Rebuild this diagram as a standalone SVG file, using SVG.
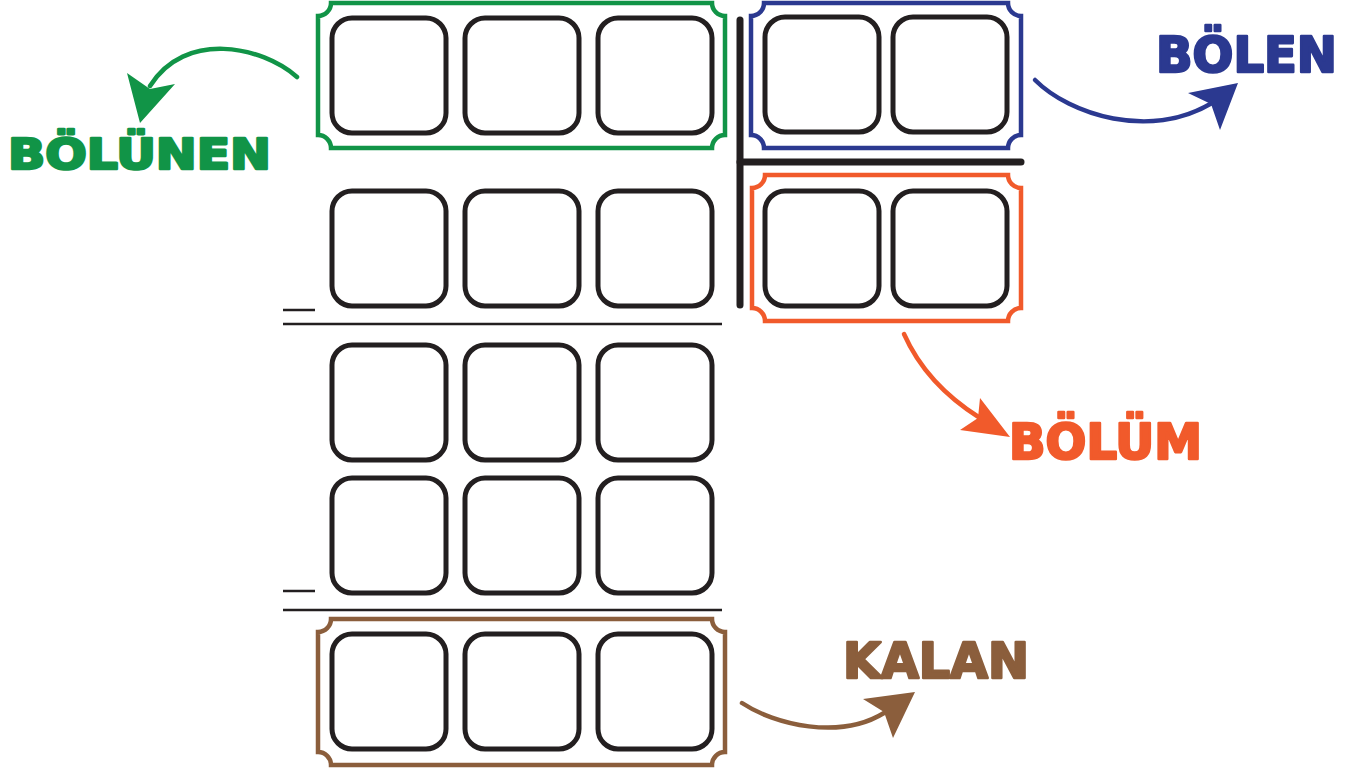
<svg xmlns="http://www.w3.org/2000/svg" width="1355" height="773" viewBox="0 0 1355 773">
<style>
.box{fill:none;stroke:#231f20;stroke-width:5}
.frame{fill:none;stroke-width:4.5}
.bar{stroke:#231f20;stroke-width:7;stroke-linecap:round}
.rule{stroke:#231f20;stroke-width:2.5}
.arr{fill:none;stroke-width:4.5;stroke-linecap:round}
.lbl{font-family:"DejaVu Sans",sans-serif;font-weight:bold;stroke-width:2.6;stroke-linejoin:round}
</style>
<defs>
<rect id="b" class="box" width="114" height="115" rx="20"/>
</defs>
<rect width="1355" height="773" fill="#fff"/>

<g id="bolunen">
<path class="frame" stroke="#119447" d="M331,3 H712 A13,13 0 0 0 725,16 V135 A13,13 0 0 0 712,148 H331 A13,13 0 0 0 318,135 V16 A13,13 0 0 0 331,3 Z"/>
<use href="#b" x="332" y="18"/><use href="#b" x="465" y="18"/><use href="#b" x="598" y="18"/>
</g>

<g id="row2">
<use href="#b" x="332" y="191"/><use href="#b" x="465" y="191"/><use href="#b" x="598" y="191"/>
<line class="rule" x1="283" y1="310" x2="315" y2="310"/>
<line class="rule" x1="283" y1="324" x2="722" y2="324"/>
</g>

<g id="row3">
<use href="#b" x="332" y="345"/><use href="#b" x="465" y="345"/><use href="#b" x="598" y="345"/>
</g>

<g id="row4">
<use href="#b" x="332" y="478"/><use href="#b" x="465" y="478"/><use href="#b" x="598" y="478"/>
<line class="rule" x1="283" y1="591" x2="315" y2="591"/>
<line class="rule" x1="283" y1="610" x2="722" y2="610"/>
</g>

<g id="kalan">
<path class="frame" stroke="#8b5e3c" d="M331,619 H712 A13,13 0 0 0 725,632 V752 A13,13 0 0 0 712,765 H331 A13,13 0 0 0 318,752 V632 A13,13 0 0 0 331,619 Z"/>
<use href="#b" x="332" y="634"/><use href="#b" x="465" y="634"/><use href="#b" x="598" y="634"/>
</g>

<g id="divider">
<line class="bar" x1="740" y1="20" x2="740" y2="305"/>
<line class="bar" x1="740" y1="162" x2="1021" y2="162"/>
</g>

<g id="bolen">
<path class="frame" stroke="#2b3990" d="M764,3 H1008 A13,13 0 0 0 1021,16 V135 A13,13 0 0 0 1008,148 H764 A13,13 0 0 0 751,135 V16 A13,13 0 0 0 764,3 Z"/>
<use href="#b" x="765" y="17"/><use href="#b" x="893" y="17"/>
</g>

<g id="bolum">
<path class="frame" stroke="#f15a2b" d="M765,175 H1008 A13,13 0 0 0 1021,188 V308 A13,13 0 0 0 1008,321 H765 A13,13 0 0 0 752,308 V188 A13,13 0 0 0 765,175 Z"/>
<use href="#b" x="765" y="191"/><use href="#b" x="893" y="191"/>
</g>

<g id="connectors">
<path class="arr" stroke="#119447" d="M297,77 C262,46 185,30 150,86"/>
<path fill="#119447" d="M140,123 L127,73 L150,89 L175,84 Z"/>
<path class="arr" stroke="#2b3990" d="M1035,80 C1070,115 1150,140 1212,103"/>
<path fill="#2b3990" d="M1238,83 L1188,93 L1211,104 L1220,130 Z"/>
<path class="arr" stroke="#f15a2b" d="M904,334 C920,370 945,396 980,418"/>
<path fill="#f15a2b" d="M1010,437 L980,398 L978,418 L960,430 Z"/>
<path class="arr" stroke="#8b5e3c" d="M742,703 C775,725 840,740 884,713"/>
<path fill="#8b5e3c" d="M915,692 L863,699 L884,712 L893,738 Z"/>
</g>

<g id="labels">
<text class="lbl" fill="#119447" stroke="#119447" x="8" y="169" font-size="42" textLength="263" lengthAdjust="spacingAndGlyphs">BÖLÜNEN</text>
<text class="lbl" fill="#2b3990" stroke="#2b3990" x="1156" y="72" font-size="50" textLength="181" lengthAdjust="spacingAndGlyphs">BÖLEN</text>
<text class="lbl" fill="#f15a2b" stroke="#f15a2b" x="1009" y="459" font-size="49" textLength="193" lengthAdjust="spacingAndGlyphs">BÖLÜM</text>
<text class="lbl" fill="#8b5e3c" stroke="#8b5e3c" x="843" y="678" font-size="49" textLength="186" lengthAdjust="spacingAndGlyphs">KALAN</text>
</g>
</svg>
